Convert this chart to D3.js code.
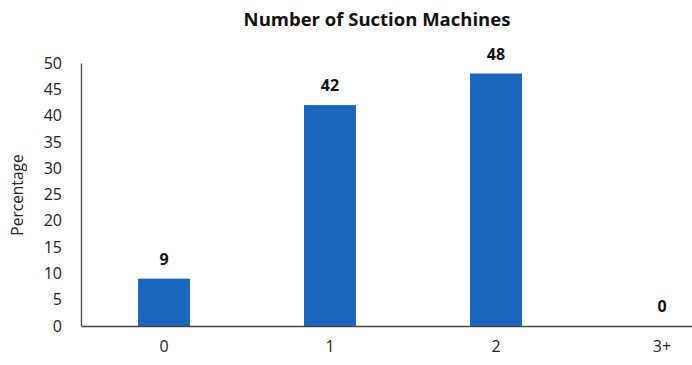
<!DOCTYPE html>
<html><head><meta charset="utf-8">
<script src="https://cdn.jsdelivr.net/npm/d3@7"></script>
<style>body{margin:0;background:#fff}svg{display:block}</style>
</head><body>
<svg id="c" width="692" height="365"></svg>
<script>
const categories = ["0", "1", "2", "3+"];
const values = [9, 42, 48, 0];
const yTicks = [0, 5, 10, 15, 20, 25, 30, 35, 40, 45, 50];
const title = "Number of Suction Machines";
const yLabel = "Percentage";

const svg = d3.select("#c");
const font = "'Open Sans', 'Liberation Sans', sans-serif";
const x0 = 81, x1 = 745, yTop = 63, yBot = 326;
const x = d3.scaleBand().domain(categories).range([x0, x1]).paddingInner(0.687).paddingOuter(0.3435);
const y = d3.scaleLinear().domain([0, 50]).range([yBot, yTop]);

svg.append("text").attr("x", 377).attr("y", 26).attr("text-anchor", "middle")
  .attr("font-family", font).attr("font-weight", "bold").attr("font-size", 18.5).attr("fill", "#111").text(title);

svg.selectAll("rect.bar").data(values).join("rect").attr("class", "bar")
  .attr("x", (d, i) => x(categories[i])).attr("width", x.bandwidth())
  .attr("y", d => y(d)).attr("height", d => y(0) - y(d)).attr("fill", "#1b66bd");

svg.selectAll("text.val").data(values).join("text").attr("class", "val")
  .attr("x", (d, i) => x(categories[i]) + x.bandwidth() / 2).attr("y", d => y(d) - 14)
  .attr("text-anchor", "middle").attr("font-family", font).attr("font-weight", "bold")
  .attr("font-size", 16).attr("fill", "#111").text(d => d);

const yAxis = svg.append("g").attr("transform", `translate(${x0},0)`)
  .call(d3.axisLeft(y).tickValues(yTicks).tickSize(0).tickPadding(19));
yAxis.select(".domain").attr("stroke", "#444").attr("stroke-width", 1.3);
yAxis.selectAll("text").attr("font-family", font).attr("font-size", 16).attr("fill", "#222");

const xAxis = svg.append("g").attr("transform", `translate(0,${yBot})`)
  .call(d3.axisBottom(x).tickSize(0).tickPadding(15));
xAxis.select(".domain").attr("stroke", "#444").attr("stroke-width", 1.3);
xAxis.selectAll("text").attr("font-family", font).attr("font-size", 16).attr("fill", "#222");

svg.append("text").attr("transform", "translate(23,195) rotate(-90)").attr("text-anchor", "middle")
  .attr("font-family", font).attr("font-size", 15.5).attr("fill", "#222").text(yLabel);
</script>
</body></html>
